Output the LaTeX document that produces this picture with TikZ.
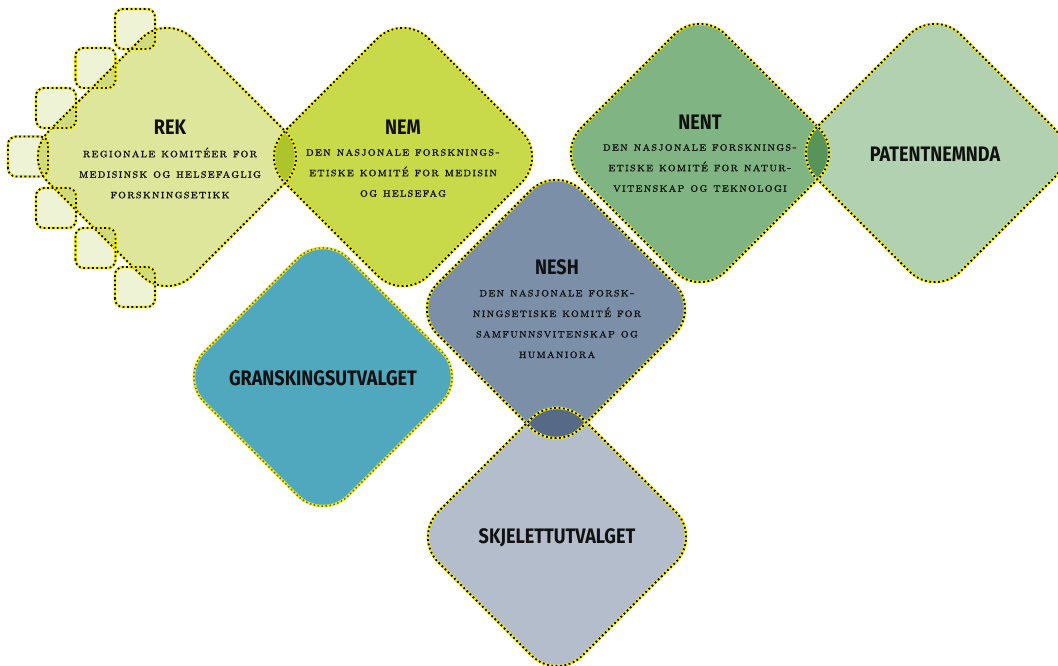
\documentclass[tikz,border=0pt]{standalone}
\usepackage{fontspec}
\usetikzlibrary{shapes.geometric}
\newfontfamily\titlefont[FakeStretch=0.86]{Fira Sans}
\newfontfamily\subfont[Extension=.otf,LetterSpace=10,FakeBold=1.2]{lmromancaps10-regular}
\definecolor{rekc}{HTML}{DDE69B}
\definecolor{sqc}{HTML}{EEF3D5}
\definecolor{nemc}{HTML}{C8DA4A}
\definecolor{nentc}{HTML}{80B583}
\definecolor{patc}{HTML}{B1D1B1}
\definecolor{neshc}{HTML}{7B8FA8}
\definecolor{granc}{HTML}{4FA8BD}
\definecolor{skjc}{HTML}{B3BDCC}
\definecolor{yel}{HTML}{F5EE10}
\definecolor{txt}{HTML}{111111}
\begin{document}
\begin{tikzpicture}[x=1pt,y=-1pt,
  dia/.style={diamond, minimum width=288pt, minimum height=288pt, inner sep=0pt, outer sep=0pt},
  sq/.style={rectangle, minimum size=40pt, inner sep=0pt, outer sep=0pt},
  dpath/.style={rounded corners=36pt, insert path={(#1.north) -- (#1.east) -- (#1.south) -- (#1.west) -- cycle}},
  spath/.style={rounded corners=8pt, insert path={(#1.south west) rectangle (#1.north east)}},
  yb/.style={draw=yel, line width=2.6pt},
  kb/.style={draw=black, line width=1.8pt, dash pattern=on 1.8pt off 2.6pt},
  gb/.style={draw=black!60, line width=1.6pt, dash pattern=on 1.6pt off 2.4pt},
  ttl/.style={font=\titlefont\bfseries\fontsize{21}{21}\selectfont, text=txt, inner sep=0pt},
  sub/.style={font=\subfont\fontsize{12.4}{20.5}\selectfont, text=txt, align=center, inner sep=0pt},
]
\useasboundingbox (0,0) rectangle (1058,665);
% shape anchors
\node[dia] (rek) at (167,157) {};
\node[dia] (nem) at (403,157) {};
\node[dia] (nent) at (700,153) {};
\node[dia] (pat) at (935,153) {};
\node[dia] (nesh) at (556,309) {};
\node[dia] (gran) at (323,377) {};
\node[dia] (skj) at (557,537) {};
\node[sq] (s1) at (135,29) {};
\node[sq] (s2) at (95.5,68) {};
\node[sq] (s3) at (56,108) {};
\node[sq] (s4) at (28,156.5) {};
\node[sq] (s5) at (56,208) {};
\node[sq] (s6) at (95.5,248) {};
\node[sq] (s7) at (135,287) {};
% fills
\begin{scope}[blend mode=multiply]
\fill[rekc, dpath=rek];
\fill[nemc, dpath=nem];
\fill[nentc, dpath=nent];
\fill[patc, dpath=pat];
\fill[neshc, dpath=nesh];
\fill[granc, dpath=gran];
\fill[skjc, dpath=skj];
\foreach \s in {s1,s2,s3,s4,s5,s6,s7} {\fill[sqc, spath=\s];}
\end{scope}
% borders
\foreach \d in {rek,nem,nent,pat,nesh,skj} {\draw[yb, dpath=\d]; \draw[kb, dpath=\d];}
\draw[yb, dpath=gran]; \draw[gb, dpath=gran];
\foreach \s in {s1,s2,s3,s4,s5,s6,s7} {\draw[yb, spath=\s]; \draw[kb, spath=\s];}
% texts
\node[ttl] (rekt) at (170,127) {REK};
\node[sub] (reks) at (170,173) {regionale komitéer for\\medisinsk og helsefaglig\\forskningsetikk};
\node[ttl] (nemt) at (403,127) {NEM};
\node[sub] (nems) at (403,173) {den nasjonale forsknings-\\etiske komité for medisin\\og helsefag};
\node[ttl] (nentt) at (700,122) {NENT};
\node[sub] (nents) at (700,168) {den nasjonale forsknings-\\etiske komité for natur-\\vitenskap og teknologi};
\node[ttl] (patt) at (935,154) {PATENTNEMNDA};
\node[ttl] (nesht) at (557,267) {NESH};
\node[sub] (neshs) at (557,324) {den nasjonale forsk-\\ningsetiske komité for\\samfunnsvitenskap og\\humaniora};
\node[ttl] (grant) at (323,378) {GRANSKINGSUTVALGET};
\node[ttl] (skjt) at (557,538) {SKJELETTUTVALGET};
\end{tikzpicture}
\end{document}
